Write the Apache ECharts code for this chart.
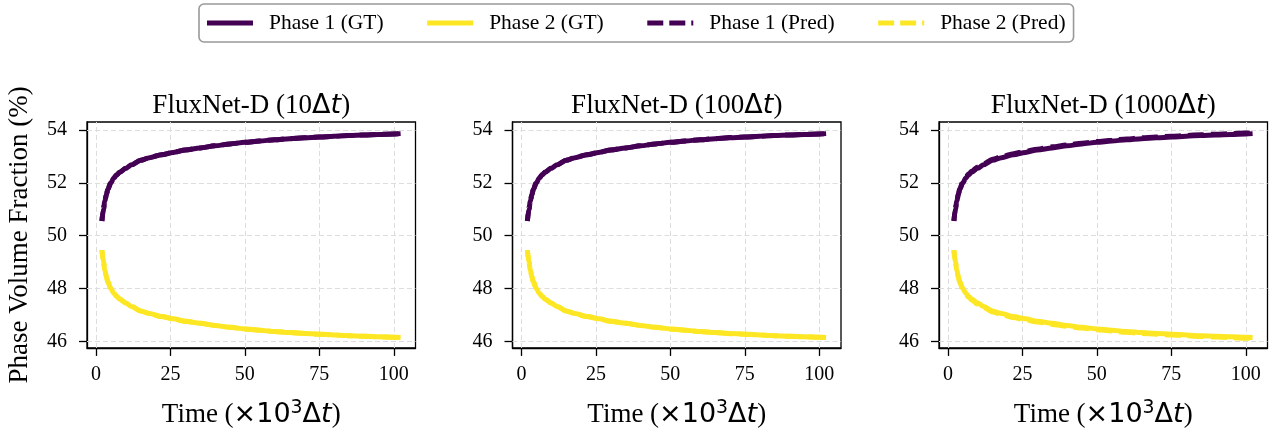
<!DOCTYPE html>
<html>
<head>
<meta charset="utf-8">
<script src="https://cdn.jsdelivr.net/npm/echarts@6/dist/echarts.min.js"></script>
<style>
  html, body { margin: 0; padding: 0; background: #fff; }
  #chart { width: 1278px; height: 433px; }
</style>
</head>
<body>
<div id="chart"></div>
<script>
// Time axis in units of 10^3 steps
const timeK = [2, 2.5, 3, 3.5, 4, 5, 6, 7, 8, 10, 12, 15, 18, 22, 26, 30, 35, 40, 45, 50, 55, 60, 65, 70, 75, 80, 85, 90, 95, 100, 102.3];

// Ground-truth volume fractions (%)
const phase1GT = [50.55, 51.0, 51.3, 51.55, 51.75, 52.0, 52.18, 52.3, 52.4, 52.55, 52.68, 52.85, 52.95, 53.06, 53.15, 53.24, 53.32, 53.40, 53.47, 53.53, 53.58, 53.63, 53.67, 53.70, 53.73, 53.76, 53.79, 53.81, 53.83, 53.85, 53.86];
const phase2GT = [49.45, 49.0, 48.7, 48.45, 48.25, 48.0, 47.82, 47.7, 47.6, 47.45, 47.32, 47.15, 47.05, 46.94, 46.85, 46.76, 46.68, 46.60, 46.53, 46.47, 46.42, 46.37, 46.33, 46.30, 46.27, 46.24, 46.21, 46.19, 46.17, 46.15, 46.14];

// Predictions, one pair per rollout step size
const phase1Pred10 = [50.55, 51.0, 51.3, 51.55, 51.75, 52.0, 52.18, 52.3, 52.4, 52.55, 52.68, 52.85, 52.95, 53.06, 53.15, 53.24, 53.32, 53.40, 53.47, 53.53, 53.58, 53.63, 53.67, 53.70, 53.73, 53.76, 53.79, 53.81, 53.83, 53.85, 53.86];
const phase2Pred10 = [49.45, 49.0, 48.7, 48.45, 48.25, 48.0, 47.82, 47.7, 47.6, 47.45, 47.32, 47.15, 47.05, 46.94, 46.85, 46.76, 46.68, 46.60, 46.53, 46.47, 46.42, 46.37, 46.33, 46.30, 46.27, 46.24, 46.21, 46.19, 46.17, 46.15, 46.14];
const phase1Pred100 = [50.55, 51.0, 51.31, 51.55, 51.75, 52.0, 52.18, 52.31, 52.41, 52.56, 52.68, 52.85, 52.95, 53.06, 53.15, 53.24, 53.32, 53.40, 53.47, 53.53, 53.58, 53.63, 53.67, 53.71, 53.73, 53.76, 53.79, 53.81, 53.83, 53.85, 53.86];
const phase2Pred100 = [49.45, 49.0, 48.69, 48.45, 48.25, 48.0, 47.82, 47.69, 47.59, 47.44, 47.32, 47.15, 47.05, 46.94, 46.85, 46.76, 46.68, 46.60, 46.53, 46.47, 46.42, 46.37, 46.33, 46.29, 46.27, 46.24, 46.21, 46.19, 46.17, 46.15, 46.14];
const phase1Pred1000 = [50.56, 51.02, 51.33, 51.59, 51.78, 52.04, 52.22, 52.34, 52.44, 52.60, 52.72, 52.89, 52.99, 53.10, 53.19, 53.27, 53.36, 53.43, 53.50, 53.56, 53.61, 53.66, 53.70, 53.73, 53.76, 53.79, 53.82, 53.84, 53.86, 53.88, 53.89];
const phase2Pred1000 = [49.44, 48.98, 48.67, 48.41, 48.22, 47.96, 47.78, 47.66, 47.56, 47.40, 47.28, 47.11, 47.01, 46.90, 46.81, 46.73, 46.64, 46.57, 46.50, 46.44, 46.39, 46.34, 46.30, 46.27, 46.24, 46.21, 46.18, 46.16, 46.14, 46.12, 46.11];

const panelSteps = ['10', '100', '1000'];
const predictions = [
  [phase1Pred10, phase2Pred10],
  [phase1Pred100, phase2Pred100],
  [phase1Pred1000, phase2Pred1000]
];
const xTicks = [0, 25, 50, 75, 100];
const yTicks = [46, 48, 50, 52, 54];
const seriesNames = ['Phase 1 (GT)', 'Phase 2 (GT)', 'Phase 1 (Pred)', 'Phase 2 (Pred)'];

const SERIF = '"Liberation Serif", "Times New Roman", Times, serif';
const SANS = '"DejaVu Sans", sans-serif';
const PURPLE = '#440154';
const YELLOW = '#fde725';
const LINE_W = 5;
const LABEL_SIZE = 27;

const gridLefts = [87, 512.5, 939];
const gridWidth = 328.5;
const gridTop = 122;
const gridHeight = 227;

// legend swatches: a solid bar and a two-and-a-bit dash bar
const SOLID_ICON = 'path://M0,0H46V5H0Z';
const DASH_ICON = 'path://M0,0H16V5H0Z M22,0H38V5H22Z M44,0H46V5H44Z';

const mathRich = (size) => ({
  s: { fontFamily: SERIF, fontSize: size, fontWeight: 'normal', color: '#000' },
  m: { fontFamily: SANS, fontSize: size, fontWeight: 'normal', color: '#000' },
  i: { fontFamily: SANS, fontSize: size, fontWeight: 'normal', fontStyle: 'italic', color: '#000' },
  sup: { fontFamily: SANS, fontSize: size * 0.7, fontWeight: 'normal', color: '#000', padding: [0, 0, size * 0.45, 0] }
});

const pairs = (ys) => timeK.map((x, k) => [x, ys[k]]);

const grids = [], xAxes = [], yAxes = [], titles = [], series = [];

panelSteps.forEach((step, p) => {
  grids.push({
    left: gridLefts[p], top: gridTop, width: gridWidth, height: gridHeight,
    show: true, borderColor: '#000', borderWidth: 1.3, backgroundColor: 'transparent'
  });
  titles.push({
    text: '{s|FluxNet-D (' + step + '}{m|Δ}{i|t}{s|)}',
    left: gridLefts[p] + gridWidth / 2,
    textAlign: 'center',
    top: 92,
    padding: 0,
    textStyle: { fontWeight: 'normal', rich: mathRich(LABEL_SIZE) }
  });
  xAxes.push({
    gridIndex: p, type: 'value', min: -3, max: 107.3,
    name: '{s|Time (}{m|×10}{sup|3}{m|Δ}{i|t}{s|)}',
    nameLocation: 'middle', nameGap: 51,
    nameTextStyle: { rich: mathRich(LABEL_SIZE) },
    axisLine: { show: true, onZero: false, lineStyle: { color: '#000', width: 1.3 } },
    axisTick: { show: true, length: 8, customValues: xTicks, lineStyle: { color: '#000', width: 1.3 } },
    axisLabel: { customValues: xTicks, margin: 17, fontFamily: SERIF, fontSize: 20, color: '#000' },
    splitLine: { show: false }
  });
  yAxes.push({
    gridIndex: p, type: 'value', min: 45.75, max: 54.3,
    name: p === 0 ? 'Phase Volume Fraction (%)' : '',
    nameLocation: 'middle', nameGap: 54,
    nameTextStyle: { fontFamily: SERIF, fontSize: LABEL_SIZE, color: '#000' },
    axisLine: { show: true, onZero: false, lineStyle: { color: '#000', width: 1.3 } },
    axisTick: { show: true, length: 8, customValues: yTicks, lineStyle: { color: '#000', width: 1.3 } },
    axisLabel: { customValues: yTicks, margin: 20, fontFamily: SERIF, fontSize: 20, color: '#000' },
    splitLine: { show: false }
  });

  const gridLines = xTicks.map(v => ({ xAxis: v })).concat(yTicks.map(v => ({ yAxis: v })));
  const lineBase = {
    type: 'line', xAxisIndex: p, yAxisIndex: p, showSymbol: false, symbol: 'none',
    smooth: 0.3, smoothMonotone: 'x', z: 3, silent: true
  };
  series.push(Object.assign({}, lineBase, {
    name: seriesNames[0], data: pairs(phase1GT),
    lineStyle: { color: PURPLE, width: LINE_W, cap: 'butt' }, itemStyle: { color: PURPLE },
    markLine: {
      z: 1, silent: true, symbol: ['none', 'none'], label: { show: false },
      lineStyle: { color: '#dddddd', width: 1, type: [5, 3] },
      emphasis: { disabled: true },
      data: gridLines
    }
  }));
  series.push(Object.assign({}, lineBase, {
    name: seriesNames[1], data: pairs(phase2GT),
    lineStyle: { color: YELLOW, width: LINE_W, cap: 'butt' }, itemStyle: { color: YELLOW }
  }));
  series.push(Object.assign({}, lineBase, {
    name: seriesNames[2], data: pairs(predictions[p][0]), z: 4,
    lineStyle: { color: PURPLE, width: LINE_W, type: [16, 7] }, itemStyle: { color: PURPLE }
  }));
  series.push(Object.assign({}, lineBase, {
    name: seriesNames[3], data: pairs(predictions[p][1]), z: 4,
    lineStyle: { color: YELLOW, width: LINE_W, type: [16, 7] }, itemStyle: { color: YELLOW }
  }));
});

const chart = echarts.init(document.getElementById('chart'), null, { renderer: 'canvas' });
chart.setOption({
  animation: false,
  backgroundColor: '#fff',
  title: titles,
  legend: {
    data: [
      { name: seriesNames[0], icon: SOLID_ICON },
      { name: seriesNames[1], icon: SOLID_ICON },
      { name: seriesNames[2], icon: DASH_ICON },
      { name: seriesNames[3], icon: DASH_ICON }
    ],
    left: 199, top: 4,
    padding: [8, 8, 8, 8],
    itemWidth: 46, itemHeight: 5, itemGap: 43.5,
    symbolKeepAspect: false,
    borderColor: '#999', borderWidth: 1.6, borderRadius: 5,
    backgroundColor: '#fff',
    selectedMode: false,
    textStyle: { fontFamily: SERIF, fontSize: 21.5, color: '#000', padding: [0, 0, 0, 11] }
  },
  grid: grids,
  xAxis: xAxes,
  yAxis: yAxes,
  series: series
});
</script>
</body>
</html>
